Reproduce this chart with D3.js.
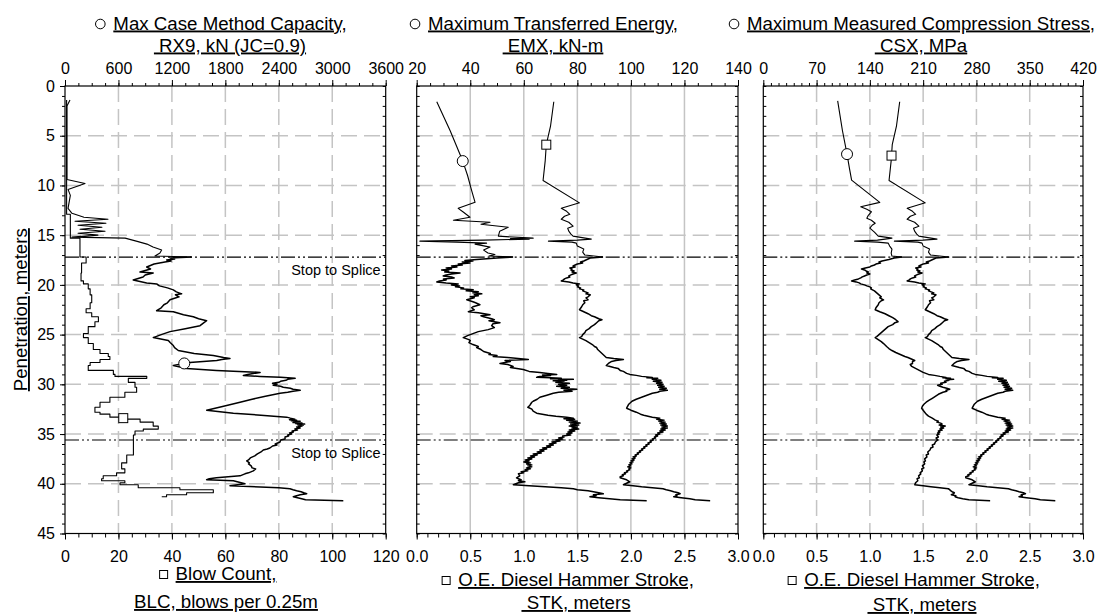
<!DOCTYPE html>
<meta charset="utf-8">
<style>
body{margin:0;background:#fff;}
svg{font-family:"Liberation Sans",Arial,sans-serif;}
.grid line{stroke:#c4c4c4;stroke-width:1.5;}
.trace{fill:none;stroke:#000;stroke-width:1.1;stroke-linejoin:round;}
.trace.low{stroke-width:1.5;}
.splice{stroke:#000;stroke-width:1.2;stroke-dasharray:14,3,2,3,2,3;}
.tick text{font-size:16px;fill:#000;font-family:"Liberation Sans",Arial,sans-serif;}
.tick line{stroke:#000;}
.title{font-size:18.7px;text-decoration:underline;}
.note{font-size:14.5px;}
</style>
<title>dynamic pile monitoring</title>
<body>
<script src="https://d3js.org/d3.v7.min.js"></script>
<script>

// [depth m, value]
var rx9 = [[1.4,56],[2.0,22],[9.4,22],[9.8,225],[10.4,34],[11.0,60],[12.3,34],[12.8,78],[13.2,213],[13.4,483],[13.6,112],[13.8,460],[14.0,146],[14.2,415],[14.4,168],[14.6,450],[14.8,146],[15.0,370],[15.2,78],[15.3,675],[15.6,800],[15.9,920],[16.2,988],[16.5,1085],[16.8,1066],[17.1,1010],[17.2,1422],[17.3,1180],[17.4,1230],[17.5,1141],[17.6,1190],[17.7,1122],[17.9,1000],[18.2,917],[18.4,960],[18.7,842],[18.8,990],[19.0,900],[19.2,876],[19.5,766],[19.8,917],[19.9,1029],[20.1,1060],[20.3,1150],[20.5,1216],[20.7,1250],[20.9,1310],[21.0,1240],[21.2,1280],[21.5,1179],[21.8,1150],[22.0,1110],[22.3,1080],[22.6,1029],[22.7,1216],[23.0,1330],[23.2,1440],[23.4,1500],[23.6,1590],[23.8,1560],[24.1,1516],[24.4,1350],[24.7,1179],[25.0,1080],[25.3,991],[25.6,1160],[25.8,1180],[26.1,1216],[26.3,1230],[26.6,1272],[26.9,1450],[27.1,1665],[27.3,1780],[27.4,1852],[27.5,1760],[27.6,1703],[27.8,1400],[28.1,1216],[28.4,1366],[28.6,1700],[28.8,2190],[29.0,2050],[29.1,2002],[29.2,2190],[29.3,2420],[29.4,2583],[29.5,2500],[29.6,2480],[29.7,2420],[29.8,2400],[29.9,2330],[30.0,2380],[30.1,2338],[30.2,2420],[30.3,2450],[30.4,2530],[30.5,2560],[30.6,2640],[30.7,2560],[30.8,2500],[30.9,2414],[31.2,2250],[31.5,2100],[31.8,1965],[32.2,1780],[32.6,1590],[32.9,1890],[33.1,2200],[33.3,2488],[33.4,2530],[33.5,2580],[33.55,2520],[33.6,2600],[33.65,2540],[33.7,2640],[33.75,2570],[33.8,2620],[33.85,2560],[33.9,2660],[33.95,2590],[34.0,2690],[34.05,2610],[34.1,2675],[34.15,2620],[34.2,2660],[34.3,2600],[34.4,2640],[34.5,2580],[34.6,2610],[34.7,2550],[34.8,2563],[34.9,2520],[35.0,2545],[35.1,2500],[35.2,2510],[35.3,2470],[35.5,2470],[35.6,2420],[35.8,2414],[36.0,2360],[36.1,2380],[36.2,2330],[36.4,2300],[36.5,2270],[36.6,2226],[36.8,2200],[37.0,2160],[37.2,2130],[37.4,2080],[37.6,2060],[37.7,2040],[37.9,2070],[38.0,2060],[38.2,2090],[38.4,2100],[38.5,2140],[38.7,2114],[38.9,2060],[39.0,2020],[39.2,1965],[39.4,1700],[39.5,1620],[39.6,1590],[39.7,1890],[40.0,2020],[40.2,1852],[40.4,2400],[40.5,2525],[40.6,2560],[40.7,2600],[40.8,2650],[40.9,2680],[41.0,2713],[41.1,2640],[41.2,2600],[41.3,2563],[41.4,2610],[41.5,2657],[41.6,2700],[41.7,3124]];
var blc = [[1.4,0.6],[12.9,2],[15.3,5.6],[17.2,7.9],[17.8,6.2],[18.8,6.0],[19.6,6.9],[19.9,8.7],[20.4,9.4],[21.0,10],[21.8,9.4],[22.4,7.9],[22.8,10],[23.2,12.5],[23.7,11.2],[24.2,8.7],[24.9,6.9],[25.3,8.7],[25.9,10.6],[26.5,13.1],[26.9,16.2],[27.2,16.8],[27.5,13.1],[27.8,9.4],[28.1,8.7],[28.6,18.1],[29.0,18.7],[29.2,30.6],[29.4,23.7],[29.8,26.2],[30.3,26.8],[30.8,22.4],[31.3,16.8],[31.8,13.1],[32.3,11.2],[32.8,13.1],[33.0,16.8],[33.3,21.8],[33.5,28.1],[33.8,33],[34.2,34.9],[34.5,29.3],[34.7,26.2],[35.1,25.6],[37.1,23.1],[37.9,21.2],[38.5,22.4],[38.9,19.3],[39.2,14.3],[39.5,13.7],[39.7,22.4],[39.9,20.6],[40.1,27.4],[40.4,43],[40.6,55.5],[40.9,45.5],[41.1,38],[41.3,36.2]];
var emx = [[1.58,27.5],[4.5,32.5],[7.55,37.2],[9.0,39],[10.5,40.5],[11.7,41.8],[12.3,35.5],[12.7,37.5],[13.2,39.9],[13.5,33.7],[13.7,47.4],[13.9,44],[14.2,54.2],[14.6,51],[15.1,50.5],[15.3,63.5],[15.35,55],[15.4,62],[15.5,45],[15.6,21.2],[15.7,35],[15.8,46.1],[15.9,41.8],[16.2,47.4],[16.5,45],[16.8,46.6],[16.95,49.2],[17.1,47],[17.2,56],[17.3,50],[17.45,42.4],[17.55,38],[17.6,41],[17.7,37],[17.8,39.9],[17.9,35.5],[18.0,37],[18.1,33],[18.2,35],[18.3,31],[18.4,33],[18.5,29.3],[18.6,32],[18.7,30.5],[18.8,36.2],[18.9,33],[19.0,31],[19.1,29.9],[19.2,33],[19.3,34],[19.4,30],[19.5,31],[19.6,28.5],[19.7,27.5],[19.8,31],[19.9,35.5],[20.0,33],[20.1,36],[20.2,34.5],[20.3,37.5],[20.4,36.5],[20.5,41.1],[20.6,38.5],[20.7,43],[20.8,41],[20.9,44.3],[21.0,41.5],[21.1,43],[21.2,40],[21.3,41.5],[21.5,38.7],[21.7,41],[21.8,42],[22.0,43.6],[22.2,41],[22.3,40.5],[22.5,41.5],[22.7,39.3],[22.8,43],[23.0,47.4],[23.1,44],[23.2,45],[23.4,48],[23.5,49],[23.6,47],[23.8,51.1],[23.9,48.5],[24.1,48],[24.3,49],[24.5,46.7],[24.7,43],[24.9,41],[25.1,39],[25.3,37.4],[25.5,39.5],[25.6,40],[25.8,39.5],[26.0,41],[26.2,43],[26.3,42.4],[26.5,44],[26.7,45],[26.9,47.5],[27.0,47],[27.1,50],[27.2,48.6],[27.3,54],[27.5,61.7],[27.6,53],[27.7,55],[27.9,51.1],[28.0,54],[28.2,56],[28.3,55],[28.5,59.8],[28.7,62],[28.8,66],[28.9,69],[29.0,72.3],[29.05,67],[29.1,70],[29.2,66],[29.3,64.8],[29.35,70],[29.4,74],[29.45,70],[29.5,78.5],[29.55,73],[29.6,76],[29.65,71],[29.7,75],[29.8,72],[29.9,77],[30.0,73],[30.1,76],[30.2,72.3],[30.3,77],[30.4,74],[30.5,79.8],[30.6,75],[30.7,78],[30.8,73],[30.9,71],[31.1,68.6],[31.3,66],[31.5,65],[31.7,63.5],[31.8,63],[32.0,62.5],[32.1,62.3],[32.3,61.5],[32.5,63],[32.7,63.5],[32.9,64.8],[33.1,69],[33.2,72],[33.3,76],[33.4,78.5],[33.45,75],[33.5,79],[33.6,76],[33.7,80],[33.8,77],[33.9,81],[34.0,77.5],[34.1,80.5],[34.2,77],[34.3,80],[34.4,78],[34.5,80.5],[34.6,77],[34.7,79],[34.8,76.5],[34.9,78],[35.0,76],[35.1,77.5],[35.2,74.5],[35.3,75],[35.4,73],[35.5,74.5],[35.6,72],[35.7,73.5],[35.8,70.5],[35.9,72],[36.0,69.5],[36.1,71],[36.2,68.5],[36.3,70],[36.4,67],[36.5,68.5],[36.6,66],[36.7,67.5],[36.8,65],[36.9,66.5],[37.0,63.5],[37.1,65],[37.2,62.5],[37.3,64],[37.4,61.5],[37.5,63],[37.6,60.5],[37.7,62],[37.8,60],[37.9,62.5],[38.0,61],[38.1,63],[38.2,61.5],[38.3,63],[38.4,61],[38.5,62.5],[38.6,60.5],[38.7,61.5],[38.8,59],[38.9,60],[39.0,58],[39.2,58.5],[39.4,57.3],[39.5,58],[39.6,59],[39.7,58],[39.8,60.4],[39.9,58],[40.1,56.1],[40.2,62],[40.3,68],[40.4,74],[40.5,78.5],[40.6,80],[40.7,84],[40.8,86],[40.9,88],[41.0,89.7],[41.1,86],[41.2,87],[41.3,84.7],[41.4,88],[41.5,92],[41.6,96],[41.7,105.9]];
var stk = [[1.58,1.28],[4.0,1.25],[5.9,1.21],[7.5,1.2],[9.5,1.18],[11.75,1.52],[12.3,1.35],[12.6,1.4],[12.9,1.43],[13.1,1.38],[13.4,1.35],[13.7,1.42],[14.1,1.46],[14.3,1.41],[14.6,1.42],[14.9,1.44],[15.1,1.46],[15.4,1.63],[15.5,1.5],[15.6,1.23],[15.7,1.45],[15.8,1.49],[16.1,1.5],[16.4,1.56],[16.7,1.55],[17.0,1.57],[17.2,1.74],[17.3,1.62],[17.4,1.6],[17.5,1.58],[17.6,1.56],[17.7,1.53],[17.8,1.55],[17.9,1.5],[18.0,1.48],[18.1,1.46],[18.2,1.48],[18.3,1.43],[18.4,1.45],[18.5,1.44],[18.6,1.47],[18.7,1.45],[18.8,1.49],[18.9,1.46],[19.0,1.44],[19.1,1.42],[19.2,1.43],[19.3,1.4],[19.4,1.38],[19.5,1.37],[19.6,1.35],[19.7,1.42],[19.8,1.46],[19.9,1.52],[20.0,1.49],[20.1,1.51],[20.2,1.5],[20.3,1.53],[20.4,1.52],[20.5,1.56],[20.6,1.55],[20.8,1.6],[20.9,1.58],[21.0,1.62],[21.2,1.6],[21.3,1.58],[21.5,1.6],[21.6,1.56],[21.8,1.57],[22.0,1.55],[22.2,1.54],[22.5,1.52],[22.7,1.56],[22.9,1.6],[23.1,1.63],[23.2,1.66],[23.4,1.7],[23.5,1.73],[23.6,1.7],[23.8,1.68],[24.0,1.66],[24.2,1.63],[24.4,1.61],[24.6,1.58],[24.8,1.57],[25.0,1.55],[25.2,1.54],[25.3,1.52],[25.5,1.56],[25.6,1.58],[25.8,1.61],[26.0,1.64],[26.2,1.66],[26.3,1.68],[26.5,1.69],[26.8,1.72],[27.0,1.74],[27.3,1.77],[27.4,1.84],[27.5,1.93],[27.6,1.86],[27.7,1.82],[27.9,1.79],[28.1,1.77],[28.3,1.84],[28.4,1.88],[28.6,1.9],[28.7,1.93],[28.9,1.96],[29.0,1.99],[29.1,2.05],[29.2,2.1],[29.3,2.2],[29.35,2.15],[29.4,2.25],[29.5,2.2],[29.6,2.28],[29.7,2.21],[29.8,2.29],[29.9,2.24],[30.0,2.3],[30.1,2.25],[30.2,2.31],[30.3,2.26],[30.4,2.33],[30.5,2.27],[30.6,2.34],[30.7,2.27],[30.8,2.25],[30.9,2.2],[31.1,2.15],[31.3,2.1],[31.5,2.05],[31.7,2.01],[32.0,1.98],[32.2,1.97],[32.4,1.96],[32.6,2.0],[32.8,2.05],[33.0,2.09],[33.1,2.12],[33.3,2.2],[33.4,2.27],[33.5,2.24],[33.6,2.31],[33.7,2.26],[33.8,2.32],[33.9,2.27],[34.0,2.33],[34.1,2.28],[34.2,2.34],[34.3,2.29],[34.4,2.34],[34.5,2.28],[34.6,2.32],[34.7,2.27],[34.8,2.3],[34.9,2.25],[35.0,2.27],[35.1,2.23],[35.2,2.25],[35.3,2.22],[35.4,2.23],[35.5,2.2],[35.6,2.21],[35.7,2.18],[35.8,2.19],[35.9,2.16],[36.0,2.17],[36.1,2.14],[36.2,2.15],[36.3,2.12],[36.4,2.13],[36.5,2.1],[36.6,2.11],[36.7,2.08],[36.8,2.09],[36.9,2.06],[37.0,2.07],[37.1,2.04],[37.2,2.05],[37.3,2.02],[37.4,2.04],[37.5,2.01],[37.6,2.03],[37.7,2.0],[37.8,2.02],[37.9,1.99],[38.0,2.01],[38.1,1.98],[38.2,2.0],[38.3,1.97],[38.4,2.0],[38.5,1.98],[38.6,1.99],[38.7,1.96],[38.8,1.97],[38.9,1.94],[39.0,1.95],[39.1,1.92],[39.2,1.93],[39.3,1.9],[39.4,1.9],[39.5,1.93],[39.6,1.96],[39.8,1.99],[40.0,1.95],[40.1,1.93],[40.2,2.02],[40.3,2.1],[40.4,2.2],[40.5,2.3],[40.6,2.33],[40.7,2.37],[40.8,2.4],[40.9,2.44],[41.0,2.46],[41.1,2.42],[41.2,2.43],[41.3,2.4],[41.4,2.47],[41.5,2.55],[41.6,2.6],[41.7,2.74]];
var csx = [[1.5,97.7],[4.5,104],[6.85,110],[8.2,113],[9.46,116],[11.7,153],[12.15,128],[12.4,136],[12.65,142],[13.0,138],[13.3,136],[13.5,142],[13.8,147],[14.0,143],[14.3,140],[14.7,146],[15.1,151],[15.3,169],[15.4,160],[15.5,150],[15.6,120],[15.7,150],[15.8,164],[16.1,166],[16.4,169],[16.8,168],[17.1,169],[17.2,182],[17.3,172],[17.45,165],[17.6,156],[17.7,152],[17.8,154],[17.9,148],[18.0,146],[18.1,142],[18.2,140],[18.3,134],[18.4,129],[18.5,133],[18.6,135],[18.7,138],[18.8,136],[18.9,140],[19.0,136],[19.1,133],[19.2,130],[19.3,128],[19.4,125],[19.5,120],[19.6,116],[19.7,122],[19.8,126],[19.9,128],[20.0,133],[20.1,136],[20.2,140],[20.3,142],[20.4,141],[20.6,146],[20.8,149],[21.0,152],[21.2,155],[21.3,153],[21.5,158],[21.6,155],[21.8,152],[22.0,151],[22.1,150],[22.3,148],[22.5,147],[22.7,153],[22.9,160],[23.1,165],[23.3,170],[23.5,174],[23.7,177],[23.8,173],[24.0,170],[24.2,164],[24.4,161],[24.6,158],[24.8,155],[25.0,152],[25.2,149],[25.3,147],[25.5,151],[25.7,155],[25.9,158],[26.2,162],[26.4,165],[26.6,169],[26.8,174],[27.0,180],[27.2,186],[27.3,190],[27.5,196],[27.6,199],[27.7,196],[27.9,196],[28.0,193],[28.2,195],[28.4,200],[28.6,205],[28.8,210],[29.0,217],[29.1,225],[29.2,232],[29.3,240],[29.35,236],[29.4,246],[29.45,240],[29.5,250],[29.55,242],[29.6,244],[29.7,238],[29.8,240],[29.9,233],[30.0,235],[30.1,229],[30.2,232],[30.3,236],[30.4,241],[30.5,245],[30.6,240],[30.7,241],[30.8,236],[31.0,230],[31.2,226],[31.4,222],[31.6,218],[31.8,214],[32.0,211],[32.2,209],[32.4,208],[32.6,210],[32.8,212],[33.0,214],[33.2,217],[33.4,222],[33.6,226],[33.7,230],[33.8,228],[33.9,233],[34.0,235],[34.1,231],[34.2,239],[34.3,233],[34.4,237],[34.5,232],[34.6,235],[34.7,230],[34.8,232],[34.9,229],[35.0,231],[35.1,228],[35.3,230],[35.4,227],[35.6,229],[35.8,226],[36.0,225],[36.1,222],[36.3,223],[36.4,220],[36.6,219],[36.8,216],[37.0,217],[37.1,214],[37.3,215],[37.5,212],[37.7,213],[37.8,211],[38.0,212],[38.2,209],[38.4,211],[38.5,208],[38.7,209],[38.9,206],[39.0,207],[39.2,204],[39.4,205],[39.5,202],[39.7,203],[39.9,200],[40.1,199],[40.2,210],[40.3,220],[40.4,232],[40.5,243],[40.6,245],[40.7,246],[40.8,248],[40.9,251],[41.0,250],[41.1,247],[41.2,253],[41.3,252],[41.4,256],[41.5,262],[41.6,270],[41.7,298]];

// marker depths (m) for each trace, panel by panel
var markDepths = [[27.9, 33.4], [7.55, 5.9], [6.85, 7.0]];
var spliceDepths = [17.2, 35.6];
var depthTicks = d3.range(0, 46, 5);

var topTitles = [["Max Case Method Capacity,", "\u00a0RX9, kN (JC=0.9)"],
                 ["Maximum Transferred Energy,", "\u00a0EMX, kN-m"],
                 ["Maximum Measured Compression Stress,", "\u00a0CSX, MPa"]];
var botTitles = [["Blow Count,", "BLC, blows per 0.25m"],
                 ["O.E. Diesel Hammer Stroke,", "\u00a0STK, meters"],
                 ["O.E. Diesel Hammer Stroke,", "\u00a0STK, meters"]];

var W = 1098, H = 614, yTop = 86, yBot = 533.5;
var svg = d3.select("body").append("svg").attr("width", W).attr("height", H);
var y = d3.scaleLinear().domain([0, 45]).range([yTop, yBot]);

var panels = [
  {x0:65, x1:385.7, top:[0,3600,600,150], bot:[0,120,20,5], fmt:d3.format("d"), vdash:true, tx:230, bx:226,
   a:rx9, b:blc, bStep:true},
  {x0:416.7, x1:738, top:[20,140,20,5], bot:[0,3,0.5,0.1], fmt:d3.format(".1f"), vdash:false, tx:553, bx:576,
   a:emx, b:stk},
  {x0:763.3, x1:1083, top:[0,420,70,10], bot:[0,3,0.5,0.1], fmt:d3.format(".1f"), vdash:true, tx:921, bx:922,
   a:csx, b:stk}
];

function ticksOf(lo, hi, step){
  var n = Math.round((hi - lo) / step), out = [];
  for (var i = 0; i <= n; i++) out.push(+(lo + i * step).toFixed(4));
  return out;
}

// thin trace above the first splice, heavier (noisier) below it
function drawTrace(g, pts, line){
  var cut = spliceDepths[0];
  g.append("path").attr("class", "trace")
    .attr("d", line(pts.filter(function(d){ return d[0] <= cut; })));
  g.append("path").attr("class", "trace low")
    .attr("d", line(pts.filter(function(d){ return d[0] >= cut; })));
}

panels.forEach(function(p, i){
  var xa = d3.scaleLinear().domain([p.top[0], p.top[1]]).range([p.x0, p.x1]);
  var xb = d3.scaleLinear().domain([p.bot[0], p.bot[1]]).range([p.x0, p.x1]);
  var g = svg.append("g");

  // grid
  var grid = g.append("g").attr("class", "grid");
  grid.selectAll(".h").data(depthTicks.slice(1, -1)).enter().append("line")
    .attr("x1", p.x0).attr("x2", p.x1).attr("y1", y).attr("y2", y)
    .attr("stroke-dasharray", "16,7");
  grid.selectAll(".v").data(ticksOf(p.top[0], p.top[1], p.top[2]).slice(1, -1)).enter().append("line")
    .attr("x1", xa).attr("x2", xa).attr("y1", yTop).attr("y2", yBot)
    .attr("stroke-dasharray", p.vdash ? "16,7" : null);

  // splice lines
  g.selectAll(".splice").data(spliceDepths).enter().append("line").attr("class", "splice")
    .attr("x1", p.x0).attr("x2", p.x1).attr("y1", y).attr("y2", y);

  // axes
  g.append("g").attr("transform", "translate(0," + yTop + ")")
    .call(d3.axisTop(xa).tickValues(ticksOf(p.top[0], p.top[1], p.top[3])).tickSize(3).tickFormat(""));
  g.append("g").attr("transform", "translate(0," + yTop + ")")
    .call(d3.axisTop(xa).tickValues(ticksOf(p.top[0], p.top[1], p.top[2])).tickSize(6).tickPadding(6)
      .tickFormat(d3.format("d")));
  g.append("g").attr("transform", "translate(0," + yBot + ")")
    .call(d3.axisBottom(xb).tickValues(ticksOf(p.bot[0], p.bot[1], p.bot[3])).tickSize(4).tickFormat(""));
  g.append("g").attr("transform", "translate(0," + yBot + ")")
    .call(d3.axisBottom(xb).tickValues(ticksOf(p.bot[0], p.bot[1], p.bot[2])).tickSize(6).tickPadding(11)
      .tickFormat(p.fmt));
  if (i == 0){
    g.append("g").attr("transform", "translate(" + p.x0 + ",0)")
      .call(d3.axisLeft(y).ticks(45).tickSize(3).tickFormat(""));
    g.append("g").attr("transform", "translate(" + p.x0 + ",0)")
      .call(d3.axisLeft(y).tickValues(depthTicks).tickSize(5).tickPadding(5));
  } else {
    g.append("g").attr("transform", "translate(" + p.x0 + ",0)")
      .call(d3.axisLeft(y).ticks(45).tickSize(-3).tickFormat(""));
  }
  g.append("g").attr("transform", "translate(" + p.x1 + ",0)")
    .call(d3.axisRight(y).ticks(45).tickSize(-3).tickFormat(""));
  g.selectAll(".domain").remove();
  g.append("rect").attr("x", p.x0).attr("y", yTop).attr("width", p.x1 - p.x0).attr("height", yBot - yTop)
    .attr("fill", "none").attr("stroke", "#000").attr("stroke-width", 1.2);

  // traces
  var la = d3.line().x(function(d){ return xa(d[1]); }).y(function(d){ return y(d[0]); });
  var lb = d3.line().x(function(d){ return xb(d[1]); }).y(function(d){ return y(d[0]); });
  var bPts = p.b;
  if (p.bStep){
    // step trace: hold each value down to next depth
    bPts = [];
    p.b.forEach(function(d, k){
      bPts.push([d[0], d[1]]);
      if (k < p.b.length - 1) bPts.push([p.b[k + 1][0], d[1]]);
    });
    g.append("path").attr("class", "trace").attr("d", lb(bPts));
  } else {
    drawTrace(g, bPts, lb);
  }
  drawTrace(g, p.a, la);

  // markers
  function valAt(arr, dep, step){
    for (var k = 0; k < arr.length - 1; k++){
      if (dep >= arr[k][0] && dep <= arr[k + 1][0]){
        if (step) return arr[k][1];
        var t = (dep - arr[k][0]) / (arr[k + 1][0] - arr[k][0]);
        return arr[k][1] + t * (arr[k + 1][1] - arr[k][1]);
      }
    }
    return arr[arr.length - 1][1];
  }
  var md = markDepths[i];
  g.append("circle").attr("cx", xa(valAt(p.a, md[0], false))).attr("cy", y(md[0])).attr("r", 5.5)
    .attr("fill", "#fff").attr("stroke", "#000").attr("stroke-width", 1);
  g.append("rect").attr("x", xb(valAt(p.b, md[1], p.bStep)) - 4.5).attr("y", y(md[1]) - 4.5)
    .attr("width", 9).attr("height", 9).attr("fill", "#fff").attr("stroke", "#000").attr("stroke-width", 1);

  // titles
  var t1 = g.append("text").attr("class", "title").attr("x", p.tx).attr("y", 29.5)
    .attr("text-anchor", "middle").text(topTitles[i][0]);
  g.append("text").attr("class", "title").attr("x", p.tx).attr("y", 51.5)
    .attr("text-anchor", "middle").text(topTitles[i][1]);
  var w1 = t1.node().getComputedTextLength();
  g.append("circle").attr("cx", p.tx - w1 / 2 - 13).attr("cy", 24).attr("r", 4.8)
    .attr("fill", "#fff").attr("stroke", "#000").attr("stroke-width", 1);

  var by1 = i == 0 ? 580 : 586, by2 = i == 0 ? 608 : (i == 1 ? 609 : 611);
  var b1 = g.append("text").attr("class", "title").attr("x", p.bx).attr("y", by1)
    .attr("text-anchor", "middle").text(botTitles[i][0]);
  g.append("text").attr("class", "title").attr("x", p.bx).attr("y", by2)
    .attr("text-anchor", "middle").text(botTitles[i][1]);
  var w2 = b1.node().getComputedTextLength();
  g.append("rect").attr("x", p.bx - w2 / 2 - 16).attr("y", by1 - 9.5).attr("width", 8).attr("height", 8)
    .attr("fill", "#fff").attr("stroke", "#000").attr("stroke-width", 1);

  if (i == 0){
    g.selectAll(".note").data(spliceDepths).enter().append("text").attr("class", "note")
      .attr("x", p.x1 - 5).attr("y", function(d){ return y(d) + 18; })
      .attr("text-anchor", "end").text("Stop to Splice");
  }
});

svg.append("text").attr("class", "title")
  .attr("transform", "translate(27," + ((yTop + yBot) / 2) + ") rotate(-90)")
  .attr("text-anchor", "middle").text("Penetration, meters");

</script>
</body>
</html>
